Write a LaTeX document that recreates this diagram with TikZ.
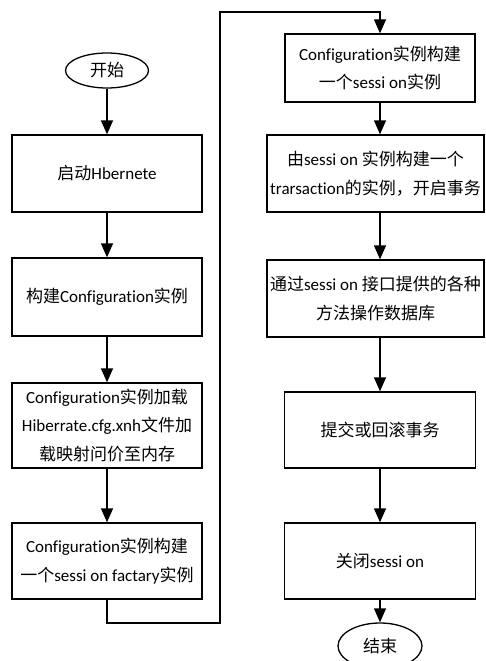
\documentclass[tikz,border=0pt]{standalone}
\usepackage{fontspec}
\setmainfont[Ligatures={NoCommon}]{Carlito}
\newfontfamily\cjkfont{Noto Sans CJK SC}
\newcommand\zh[1]{{\cjkfont #1}}
\usetikzlibrary{shapes.geometric,arrows.meta}
\begin{document}
\begin{tikzpicture}[x=1pt,y=-1pt,
  every node/.style={font=\fontsize{17}{28.5}\selectfont, inner sep=0pt, align=center},
  stepbox/.style={draw, line width=1.3pt, rectangle},
  term/.style={draw, line width=1.3pt, ellipse, minimum width=83pt, minimum height=35pt},
  flow/.style={line width=1.3pt, -{Triangle[length=14pt,width=12pt]}}]
\clip (0,0) rectangle (485,661);

% left column
\node[term] (start) at (107,70.5) {\zh{开始}};
\node[stepbox, minimum width=190pt, minimum height=77pt] (b1) at (107,173.5) {\zh{启动}Hbernete};
\node[stepbox, minimum width=190pt, minimum height=78pt] (b2) at (107,297) {\zh{构建}Configuration\zh{实例}};
\node[stepbox, minimum width=190pt, minimum height=85pt] (b3) at (107,425.5)
  {Configuration\zh{实例加载}\\Hiberrate.cfg.xnh\zh{文件加}\\\zh{载映射问价至内存}};
\node[stepbox, minimum width=190pt, minimum height=76pt] (b4) at (107,561)
  {Configuration\zh{实例构建}\\\zh{一个}sessi on factary\zh{实例}};

% right column
\node[stepbox, minimum width=190pt, minimum height=68pt] (b5) at (380,68)
  {Configuration\zh{实例构建}\\\zh{一个}sessi on\zh{实例}};
\node[stepbox, minimum width=217pt, minimum height=77pt] (b6) at (375.5,173.5)
  {\zh{由}sessi on \zh{实例构建一个}\\trarsaction\zh{的实例，开启事务}};
\node[stepbox, minimum width=217pt, minimum height=77pt] (b7) at (375.5,298.5)
  {\zh{通过}sessi on \zh{接口提供的各种}\\\zh{方法操作数据库}};
\node[stepbox, minimum width=191pt, minimum height=76pt] (b8) at (380,430) {\zh{提交或回滚事务}};
\node[stepbox, minimum width=191pt, minimum height=76pt] (b9) at (380,561) {\zh{关闭}sessi on};
\node[term, minimum width=84pt, minimum height=46pt] (stop) at (380,646) {\zh{结束}};

% connectors
\draw[flow] (start) -- (b1);
\draw[flow] (b1) -- (b2);
\draw[flow] (b2) -- (b3);
\draw[flow] (b3) -- (b4);
\coordinate (r1) at (220,623);
\coordinate (r2) at (220,12);
\draw[flow] (b4.south) |- (r1) -- (r2) -| (b5.north);
\draw[flow] (b5.south) -- (b5.south |- b6.north);
\draw[flow] (b5.south |- b6.south) -- (b5.south |- b7.north);
\draw[flow] (b5.south |- b7.south) -- (b5.south |- b8.north);
\draw[flow] (b8.south) -- (b9.north);
\draw[flow] (b9.south) -- (stop.north);
\end{tikzpicture}
\end{document}
